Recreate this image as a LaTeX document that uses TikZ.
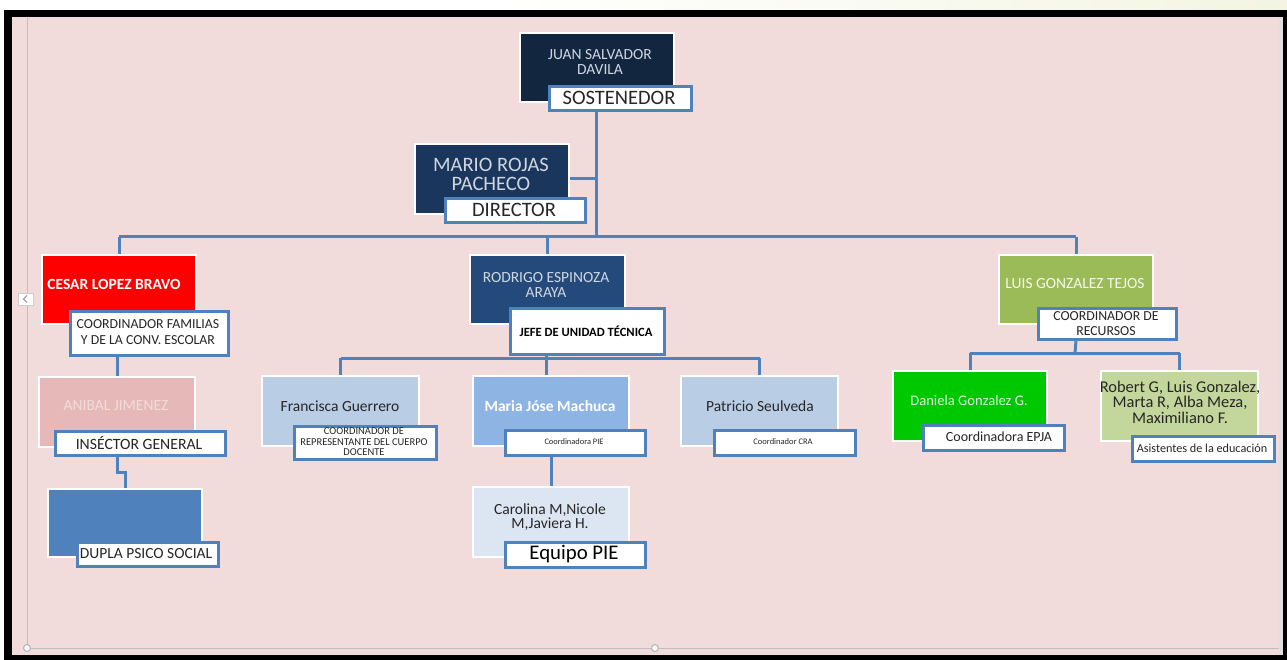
\documentclass[tikz,border=0pt]{standalone}
\usepackage{fontspec}
\setmainfont{Carlito}
\pgfdeclarelayer{bg}
\pgfdeclarelayer{lines}
\pgfsetlayers{bg,lines,main}
\definecolor{pinkbg}{HTML}{F2DCDB}
\definecolor{lblue}{HTML}{4F81BD}
\definecolor{navyA}{HTML}{13263F}
\definecolor{navyB}{HTML}{1B365D}
\definecolor{navyC}{HTML}{244A7C}
\definecolor{redbox}{HTML}{FF0000}
\definecolor{rosebox}{HTML}{E6B9B8}
\definecolor{paleblue}{HTML}{B9CDE5}
\definecolor{midblue}{HTML}{8EB4E3}
\definecolor{iceblue}{HTML}{DCE6F2}
\definecolor{olive}{HTML}{9BBB59}
\definecolor{brightgreen}{HTML}{00C800}
\definecolor{sage}{HTML}{C3D69B}
\definecolor{lighttext}{HTML}{D0D6E0}
\definecolor{darktext}{HTML}{262626}
\definecolor{topyellow}{HTML}{F3F5E2}
\begin{document}
\begin{tikzpicture}[x=1pt,y=-1pt,
  pbox/.style={draw=white,line width=2pt,anchor=north west,inner sep=0pt},
  lbox/.style={draw=lblue,line width=2.8pt,fill=white,anchor=north west,inner sep=0pt},
  ntext/.style={align=center,inner sep=0pt,font=\fontsize{15.5}{15}\selectfont},
  ltext/.style={align=center,inner sep=0pt,text=darktext},
  conn/.style={draw=lblue,line width=3pt}]
% frame and background
\begin{pgfonlayer}{bg}
\fill[white] (0,0) rectangle (1287,660);
\shade[left color=white,right color=topyellow] (500,0) rectangle (1287,10);
\fill[black] (4,10) rectangle (1287,660);
\fill[pinkbg] (12,17) rectangle (1283,655);
\fill[black!12] (1279,17) rectangle (1283,655);
\draw[black!25,line width=1pt] (27,17) -- (27,648) -- (1279,648);
\draw[black!30,fill=white,line width=1pt] (27,648) circle (3.5);
\draw[black!30,fill=white,line width=1pt] (655,648) circle (3.5);
\draw[black!20,fill=white,line width=0.6pt] (18,293) rectangle (33,305);
\draw[black!45,line width=0.8pt] (27,295.5) -- (23.5,299) -- (27,302.5);
\end{pgfonlayer}

% top level
\node[pbox,fill=navyA,minimum width=154pt,minimum height=69pt] (juan) at (519,32) {};
\node[ntext,text=lighttext] (juant) at (600,62) {JUAN SALVADOR\\DAVILA};
\node[lbox,minimum width=142pt,minimum height=24pt] (sost) at (548,85) {};
\node[ltext,font=\fontsize{20.5}{22}\selectfont] (sostt) at (619,98) {SOSTENEDOR};

\node[pbox,fill=navyB,minimum width=154pt,minimum height=70pt] (mario) at (414,143) {};
\node[ntext,text=lighttext,font=\fontsize{20.5}{19}\selectfont] (mariot) at (491,174) {MARIO ROJAS\\PACHECO};
\node[lbox,minimum width=140pt,minimum height=24pt] (dir) at (444,197) {};
\node[ltext,font=\fontsize{20.5}{22}\selectfont] (dirt) at (514,210) {DIRECTOR};

% left branch
\node[pbox,fill=redbox,minimum width=154pt,minimum height=69pt] (cesar) at (41,254) {};
\node[ntext,text=white,font=\fontsize{15.5}{15}\bfseries] (cesart) at (114,284) {CESAR LOPEZ BRAVO};
\node[lbox,minimum width=158pt,minimum height=44pt] (coordfam) at (69,310) {};
\node[ltext,font=\fontsize{13.8}{16.5}\selectfont] (coordfamt) at (148,332) {COORDINADOR FAMILIAS\\Y DE LA CONV. ESCOLAR};

\node[pbox,fill=rosebox,minimum width=156pt,minimum height=70pt] (anibal) at (38,376) {};
\node[ntext,text=pinkbg] (anibalt) at (116,406) {ANIBAL JIMENEZ};
\node[lbox,minimum width=170pt,minimum height=24pt] (insp) at (54,430) {};
\node[ltext,font=\fontsize{15.7}{17}\selectfont] (inspt) at (139,443) {INSÉCTOR GENERAL};

\node[pbox,fill=lblue,minimum width=154pt,minimum height=68pt] (dupla) at (47,488) {};
\node[lbox,minimum width=141pt,minimum height=24pt] (duplal) at (76,541) {};
\node[ltext,font=\fontsize{15.5}{17}\selectfont] (duplat) at (146,554) {DUPLA PSICO SOCIAL};

% middle branch
\node[pbox,fill=navyC,minimum width=155pt,minimum height=69pt] (rodrigo) at (469,254) {};
\node[ntext,text=lighttext] (rodrigot) at (546,285) {RODRIGO ESPINOZA\\ARAYA};
\node[lbox,minimum width=154pt,minimum height=46pt] (jefe) at (509,307) {};
\node[ltext,text=black,font=\fontsize{12.6}{14}\bfseries] (jefet) at (586,331) {JEFE DE UNIDAD TÉCNICA};

\node[pbox,fill=paleblue,minimum width=157pt,minimum height=70pt] (fran) at (261,375) {};
\node[ntext,text=darktext] (frant) at (340,406) {Francisca Guerrero};
\node[lbox,minimum width=142pt,minimum height=33pt] (franl) at (293,425) {};
\node[ltext,font=\fontsize{10.5}{10.5}\selectfont] (franlt) at (364,442) {COORDINADOR DE\\REPRESENTANTE DEL CUERPO\\DOCENTE};

\node[pbox,fill=midblue,minimum width=156pt,minimum height=70pt] (maria) at (472,375) {};
\node[ntext,text=white,font=\fontsize{15.5}{15}\bfseries] (mariat) at (550,406) {Maria Jóse Machuca};
\node[lbox,minimum width=140pt,minimum height=25pt] (marial) at (504,429) {};
\node[ltext,font=\fontsize{8.4}{9}\selectfont] (marialt) at (574,442) {Coordinadora PIE};

\node[pbox,fill=iceblue,minimum width=156pt,minimum height=70pt] (carol) at (472,486) {};
\node[ntext,text=darktext,font=\fontsize{15.5}{14.5}\selectfont] (carolt) at (550,517) {Carolina M,Nicole\\M,Javiera H.};
\node[lbox,minimum width=140pt,minimum height=25pt] (equipo) at (504,541) {};
\node[ltext,text=black,font=\fontsize{20.8}{22}\selectfont] (equipot) at (574,554) {Equipo PIE};

\node[pbox,fill=paleblue,minimum width=157pt,minimum height=70pt] (pat) at (680,375) {};
\node[ntext,text=darktext] (patt) at (760,406) {Patricio Seulveda};
\node[lbox,minimum width=141pt,minimum height=25pt] (patl) at (713,429) {};
\node[ltext,font=\fontsize{8.5}{9}\selectfont] (patlt) at (783,442) {Coordinador CRA};

% right branch
\node[pbox,fill=olive,minimum width=154pt,minimum height=69pt] (luis) at (998,254) {};
\node[ntext,text=white!90!olive] (luist) at (1075,284) {LUIS GONZALEZ TEJOS};
\node[lbox,minimum width=138pt,minimum height=31pt] (recl) at (1037,307) {};
\node[ltext,font=\fontsize{13.8}{14.5}\selectfont] (reclt) at (1106,323.5) {COORDINADOR DE\\RECURSOS};

\node[pbox,fill=brightgreen,minimum width=154pt,minimum height=70pt] (dan) at (892,370) {};
\node[ntext,text=white!85!brightgreen,font=\fontsize{14.6}{15}\selectfont] (dant) at (969,400) {Daniela Gonzalez G.};
\node[lbox,minimum width=141pt,minimum height=25pt] (danl) at (922,424) {};
\node[ltext,font=\fontsize{14}{15}\selectfont] (danlt) at (999,437) {Coordinadora EPJA};

\node[pbox,fill=sage,minimum width=157pt,minimum height=70pt] (rob) at (1100,370) {};
\node[ntext,text=darktext,font=\fontsize{16.4}{15.5}\selectfont] (robt) at (1180,402) {Robert G, Luis Gonzalez,\\Marta R, Alba Meza,\\Maximiliano F.};
\node[lbox,minimum width=142pt,minimum height=25pt] (robl) at (1131,435) {};
\node[ltext,font=\fontsize{12.2}{13}\selectfont] (roblt) at (1202,448) {Asistentes de la educación};

% connectors
\coordinate (b0) at (596,237);
\coordinate (c0) at (546,358);
\coordinate (d0) at (1075,353);
\begin{pgfonlayer}{lines}
\draw[conn] (sost.south -| b0) -- (b0);
\draw[conn] (mario.east) -- (mario.east -| b0);
\draw[conn] (cesar.north |- b0) -- (luis.north |- b0);
\draw[conn] (cesar.north |- b0) -- (cesar.north);
\draw[conn] (rodrigo.north |- b0) -- (rodrigo.north);
\draw[conn] (luis.north |- b0) -- (luis.north);
\draw[conn] (anibal.north |- coordfam.south) -- (anibal.north);
\draw[conn] (anibal.north |- insp.south) -- ++(0,16) -| (dupla.north);
\draw[conn] (c0 |- jefe.south) -- (c0);
\draw[conn] (fran.north |- c0) -- (pat.north |- c0);
\draw[conn] (fran.north |- c0) -- (fran.north);
\draw[conn] (c0) -- (c0 |- maria.north);
\draw[conn] (pat.north |- c0) -- (pat.north);
\draw[conn] (carol.north |- marial.south) -- (carol.north);
\draw[conn] (luis.south |- recl.south) -- (d0);
\draw[conn] (dan.north |- d0) -- (rob.north |- d0);
\draw[conn] (dan.north |- d0) -- (dan.north);
\draw[conn] (rob.north |- d0) -- (rob.north);
\end{pgfonlayer}
\end{tikzpicture}
\end{document}
